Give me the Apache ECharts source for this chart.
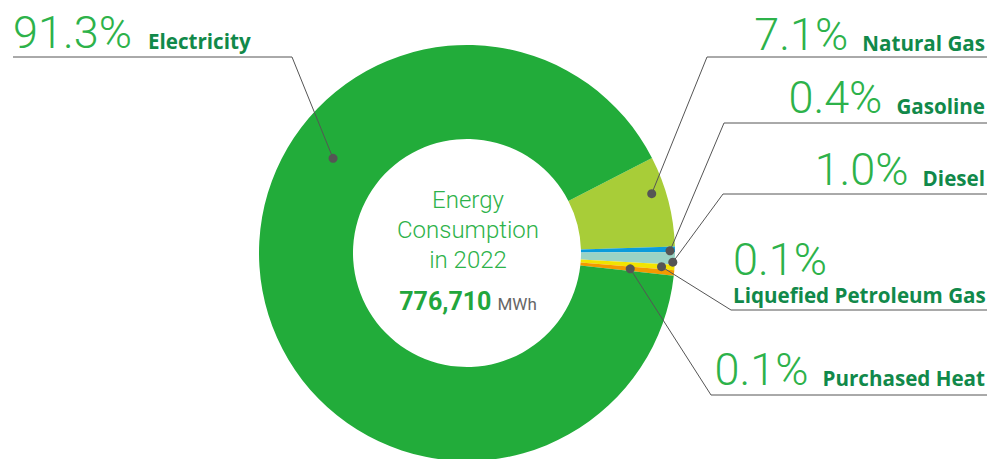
<!DOCTYPE html>
<html><head><meta charset="utf-8">
<script src="https://cdn.jsdelivr.net/npm/echarts@6/dist/echarts.min.js"></script>
<style>html,body{margin:0;padding:0;background:#fff}#c{width:987px;height:459px}</style>
</head><body><div id="c"></div>
<script>
// ---- data ----
const categories = ['Natural Gas', 'Gasoline', 'Diesel', 'Liquefied Petroleum Gas', 'Purchased Heat', 'Electricity'];
const shares = [7.1, 0.4, 1.0, 0.1, 0.1, 91.3];
const pctLabels = ['7.1%', '0.4%', '1.0%', '0.1%', '0.1%', '91.3%'];
const centerLines = ['Energy', 'Consumption', 'in 2022'];
const totalValue = '776,710';
const totalUnit = 'MWh';

// ---- styles ----
const sliceColors = ['#A8CD38', '#0B9BDB', '#9AD3C4', '#F2E400', '#F39A00', '#22AC3A'];
const pctColor = '#2DB24A';
const nameColor = '#11894A';
const lineColor = '#555555';
const PCT_SIZE = 45, NAME_SIZE = 20.6;
const PCT_FONT = '300 ' + PCT_SIZE + 'px Roboto';
const NAME_FONT = 'bold ' + NAME_SIZE + 'px "Open Sans"';

const chart = echarts.init(document.getElementById('c'), null, { renderer: 'svg' });

chart.setOption({
  animation: false,
  series: [{
    type: 'pie',
    z: 1,
    center: [467, 253],
    radius: [114, 208],
    startAngle: 27.2,
    minAngle: 1.5,
    clockwise: true,
    avoidLabelOverlap: false,
    label: { show: false },
    labelLine: { show: false },
    emphasis: { disabled: true },
    itemStyle: { borderWidth: 0 },
    data: categories.map((c, i) => ({ name: c, value: shares[i], itemStyle: { color: sliceColors[i] } }))
  }]
});

const mctx = document.createElement('canvas').getContext('2d');
function tw(text, font) { mctx.font = font; return mctx.measureText(text).width; }

// annotation layout (positions only)
const annot = [
  { kind: 'right', base: 50, uy: 57, ux: 707, t: 0.37, r: 194 },
  { kind: 'right', base: 113, uy: 123, ux: 724, t: 0.8, r: 203 },
  { kind: 'right', base: 185, uy: 194, ux: 723, t: 0.8, r: 206 },
  { kind: 'stack', base: 275, base2: 302, x: 733, uy: 310, ux: 731, t: 0.5, r: 195 },
  { kind: 'right', base: 385, uy: 395, ux: 711, t: 0.5, r: 164 },
  { kind: 'left', base: 48, x: 13, uy: 57, ux: 292, t: 0.64, r: 164 }
];

function getLayouts() {
  try {
    const data = chart.getModel().getSeriesByIndex(0).getData();
    return categories.map((c, i) => data.getItemLayout(i));
  } catch (e) {
    const sum = shares.reduce((a, b) => a + b, 0);
    let a = -27.2 * Math.PI / 180;
    return shares.map(v => {
      const s = a; a += v / sum * Math.PI * 2;
      return { startAngle: s, endAngle: a, cx: 467, cy: 253 };
    });
  }
}

const layouts = getLayouts();
const els = [];
const MID = 0.355;

function addText(text, x, baseline, font, size, color, align) {
  els.push({
    type: 'text', silent: true, z: 100,
    x: x, y: baseline - size * MID,
    style: { text: text, font: font, fill: color, align: align, verticalAlign: 'middle' }
  });
}
function addLine(points) {
  els.push({ type: 'polyline', silent: true, z: 100, shape: { points: points }, style: { stroke: lineColor, lineWidth: 1, fill: null } });
}

annot.forEach((a, i) => {
  const L = layouts[i];
  const ang = L.startAngle + (L.endAngle - L.startAngle) * a.t;
  const dx = L.cx + a.r * Math.cos(ang);
  const dy = L.cy + a.r * Math.sin(ang);
  const nameW = tw(categories[i], NAME_FONT);
  const pctW = tw(pctLabels[i], PCT_FONT);
  if (a.kind === 'right') {
    addText(categories[i], 985, a.base, NAME_FONT, NAME_SIZE, nameColor, 'right');
    addText(pctLabels[i], 985 - nameW - 14, a.base, PCT_FONT, PCT_SIZE, pctColor, 'right');
    addLine([[dx, dy], [a.ux, a.uy], [987, a.uy]]);
  } else if (a.kind === 'stack') {
    addText(pctLabels[i], a.x, a.base, PCT_FONT, PCT_SIZE, pctColor, 'left');
    addText(categories[i], a.x, a.base2, NAME_FONT, NAME_SIZE, nameColor, 'left');
    addLine([[dx, dy], [a.ux, a.uy], [987, a.uy]]);
  } else {
    addText(pctLabels[i], a.x, a.base, PCT_FONT, PCT_SIZE, pctColor, 'left');
    addText(categories[i], a.x + pctW + 16, a.base, NAME_FONT, NAME_SIZE, nameColor, 'left');
    addLine([[a.x, a.uy], [a.ux, a.uy], [dx, dy]]);
  }
  els.push({ type: 'circle', silent: true, z: 101, shape: { cx: dx, cy: dy, r: 4.5 }, style: { fill: lineColor } });
});

// center text
const CF = '300 24px Roboto';
[209, 239, 269].forEach((b, k) => addText(centerLines[k], 468, b, CF, 24, pctColor, 'center'));
const VF = 'bold 25px Roboto', UF = '17px Roboto';
const vw = tw(totalValue, VF), uw = tw(totalUnit, UF);
const sx = 468 - (vw + 6 + uw) / 2;
addText(totalValue, sx, 310, VF, 25, '#22A63C', 'left');
addText(totalUnit, sx + vw + 6, 310, UF, 17, '#666666', 'left');

chart.setOption({ graphic: { elements: els } });
</script>
</body></html>
